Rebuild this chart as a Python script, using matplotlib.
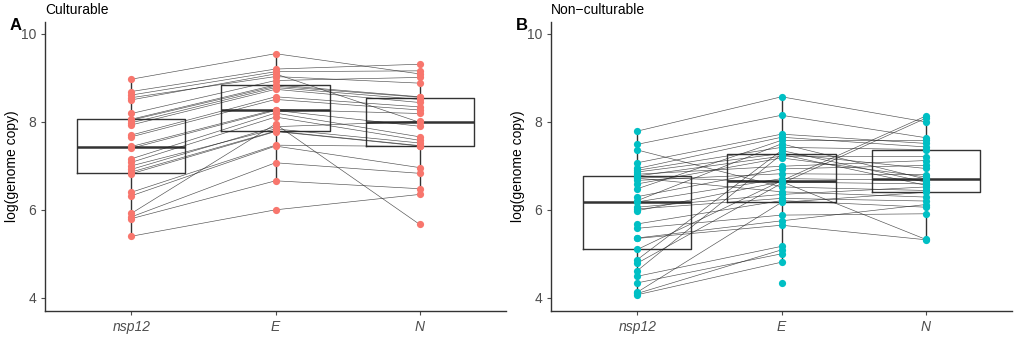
import numpy as np
import matplotlib
matplotlib.use('Agg')
import matplotlib.pyplot as plt

plt.rcParams['font.family'] = ['Liberation Sans', 'DejaVu Sans']

genes = ['nsp12', 'E', 'N']

# Culturable: one entry per sample (nsp12, E, N)
cult_nsp12 = [8.97, 8.69, 8.61, 8.55, 8.50, 8.19, 8.06, 8.04, 7.98, 7.93, 7.70, 7.66, 7.44,
              7.40, 7.16, 7.08, 7.00, 6.92, 6.86, 6.82, 6.40, 6.32, 5.92, 5.84, 5.80, 5.40]
cult_E = [9.55, 9.20, 9.14, 9.03, 9.09, 8.94, 8.84, 8.81, 8.78, 8.74, 8.57, 8.51, 8.28,
          8.26, 8.20, 8.11, 7.84, 7.89, 7.79, 7.78, 7.47, 7.45, 7.95, 7.07, 6.66, 6.00]
cult_N = [9.09, 9.31, 9.16, 8.88, 7.99, 9.01, 8.57, 8.56, 8.51, 8.44, 8.34, 8.27, 8.19,
          7.90, 7.66, 7.58, 7.52, 8.01, 7.46, 7.45, 7.44, 6.96, 5.67, 6.83, 6.48, 6.35]

# Non-culturable (nan = not measured)
nan = np.nan
non_nsp12 = [7.79, 7.49, 7.36, 7.07, 6.94, 6.90, 6.86, 6.81, 6.77, 6.75, 6.72, 6.67, 6.59,
             6.48, 6.30, 6.21, 6.18, 6.06, 6.02, 5.98, 5.68, 5.58, 5.36, 5.35, 5.10, 4.87,
             4.79, 4.62, 4.49, 4.34, 4.13, 4.10, 4.07, nan]
non_E = [8.57, 8.15, 6.52, 7.72, 7.65, 7.42, 7.28, 6.99, 7.22, 6.63, 6.41, 6.82, 7.18,
         7.58, 6.93, 7.50, 6.71, 6.35, 6.26, 6.64, 6.21, 5.88, 5.75, 5.65, 6.66, 7.35,
         6.60, 7.26, 5.17, 5.00, 6.17, 5.09, 4.81, 4.33]
non_N = [8.00, 7.64, 6.44, 7.51, 7.43, 7.37, 6.94, 7.12, 7.21, 6.59, 6.29, 6.80, 6.75,
         7.58, 7.01, 6.70, 6.67, 6.52, 6.20, 5.33, 6.06, 5.91, 6.12, 5.32, 8.13, 6.63,
         8.08, 6.56, nan, nan, 6.40, nan, nan, nan]

panels = [
    ('A', 'Culturable', '#F8766D', [cult_nsp12, cult_E, cult_N]),
    ('B', 'Non\u2212culturable', '#00BFC4', [non_nsp12, non_E, non_N]),
]

fig = plt.figure(figsize=(10.16, 3.39), dpi=100)
lefts = [45 / 1016, 551 / 1016]
width = 461 / 1016
bottom = 1 - 311 / 339
height = (311 - 22) / 339

for (tag, title, col, series), left in zip(panels, lefts):
    ax = fig.add_axes([left, bottom, width, height])
    x = np.arange(1, 4)
    data = [np.array(s, dtype=float) for s in series]
    box_line = dict(color='#333333', linewidth=1.0)
    ax.boxplot([d[~np.isnan(d)] for d in data], positions=x, widths=0.75, showfliers=False,
               boxprops=box_line, whiskerprops=box_line, capprops=dict(linewidth=0),
               medianprops=dict(color='#333333', linewidth=1.8), zorder=1)
    mat = np.column_stack(data)
    for row in mat:
        ax.plot(x, row, color='#222222', linewidth=0.45, alpha=0.8, zorder=2)
    for i, d in enumerate(data):
        ax.plot(np.full(len(d), x[i]), d, 'o', color=col, markersize=5.2,
                markeredgewidth=0, zorder=3)

    ax.set_xlim(0.4, 3.6)
    ax.set_ylim(3.70, 10.27)
    ax.set_yticks([4, 6, 8, 10])
    ax.set_xticks(x)
    ax.set_xticklabels(genes, fontstyle='italic')
    ax.tick_params(colors='#4D4D4D', labelsize=10, length=3, width=0.8)
    for s in ['top', 'right']:
        ax.spines[s].set_visible(False)
    for s in ['left', 'bottom']:
        ax.spines[s].set_color('#333333')
        ax.spines[s].set_linewidth(1.0)
    ax.set_ylabel('log(genome copy)', fontsize=10, color='black', labelpad=1)
    ax.set_title(title, loc='left', fontsize=10, pad=6)
    fig.text(left - 35 / 1016, 1 - 25 / 339, tag, fontsize=12, fontweight='bold',
             va='center', ha='left')

fig.savefig('out.png', dpi=100)
